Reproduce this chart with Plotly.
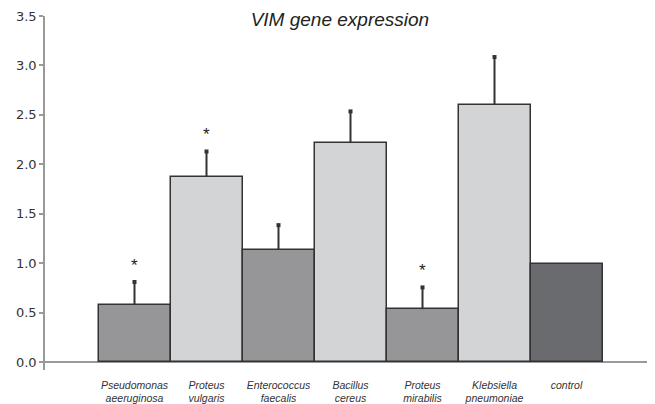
import plotly.graph_objects as go

categories = ["Pseudomonas<br>aeeruginosa", "Proteus<br>vulgaris", "Enterococcus<br>faecalis",
              "Bacillus<br>cereus", "Proteus<br>mirabilis", "Klebsiella<br>pneumoniae", "control"]
values = [0.58, 1.875, 1.135, 2.215, 0.535, 2.60, 0.99]
errors = [0.23, 0.255, 0.25, 0.32, 0.22, 0.485, 0.0]
significant = [True, True, False, False, True, False, False]
bar_colors = ["#969698", "#d3d4d6", "#969698", "#d3d4d6", "#969698", "#d3d4d6", "#6a6b6e"]

x_idx = list(range(len(categories)))
fig = go.Figure()

fig.add_trace(go.Bar(
    x=x_idx, y=values,
    marker=dict(color=bar_colors, line=dict(color="#333333", width=1.5)),
    error_y=dict(type="data", array=errors, arrayminus=[0] * len(errors), symmetric=False,
                 width=0, thickness=2, color="#333333", visible=True),
    width=1.0,
))

cap_x = [i for i, e in zip(x_idx, errors) if e > 0]
cap_y = [v + e for v, e in zip(values, errors) if e > 0]
fig.add_trace(go.Scatter(x=cap_x, y=cap_y, mode="markers",
                         marker=dict(symbol="square", size=4, color="#333333"),
                         hoverinfo="skip"))

for i, (v, e, s) in enumerate(zip(values, errors, significant)):
    if s:
        fig.add_annotation(x=i, y=v + e + 0.2, text="*", showarrow=False,
                           font=dict(family="Liberation Sans", size=17, color="#222222"),
                           yanchor="middle", yshift=-3)

# page body has an 8px margin, so the figure is drawn 8px smaller and offset
fig.update_layout(
    width=647, height=396,
    margin=dict(l=37, r=0, t=8, b=34),
    paper_bgcolor="white", plot_bgcolor="white",
    showlegend=False, bargap=0,
    title=dict(text="<i>VIM gene expression</i>", x=0.513, xanchor="center", y=0.972, yanchor="middle",
               font=dict(family="Liberation Sans", size=19, color="#222222")),
)
fig.update_xaxes(
    range=[-1.243, 7.229], tickvals=x_idx,
    ticktext=["<i>" + c + "</i>" for c in categories],
    tickfont=dict(family="Liberation Sans", size=10.5, color="#333333"),
    ticklabelstandoff=7,
    showgrid=False, zeroline=False, showline=False, ticks="", fixedrange=True,
)
fig.update_yaxes(
    range=[-0.08, 3.5], tickvals=[0, 0.5, 1.0, 1.5, 2.0, 2.5, 3.0, 3.5], tickformat=".1f",
    tickfont=dict(family="DejaVu Sans", size=13, color="#333333"),
    showgrid=False, zeroline=True, zerolinecolor="#999999", zerolinewidth=1.5,
    showline=True, linecolor="#999999", linewidth=1.5,
    ticks="outside", ticklen=4, tickcolor="#999999", tickwidth=1.5,
)

fig.write_html("out.html")
